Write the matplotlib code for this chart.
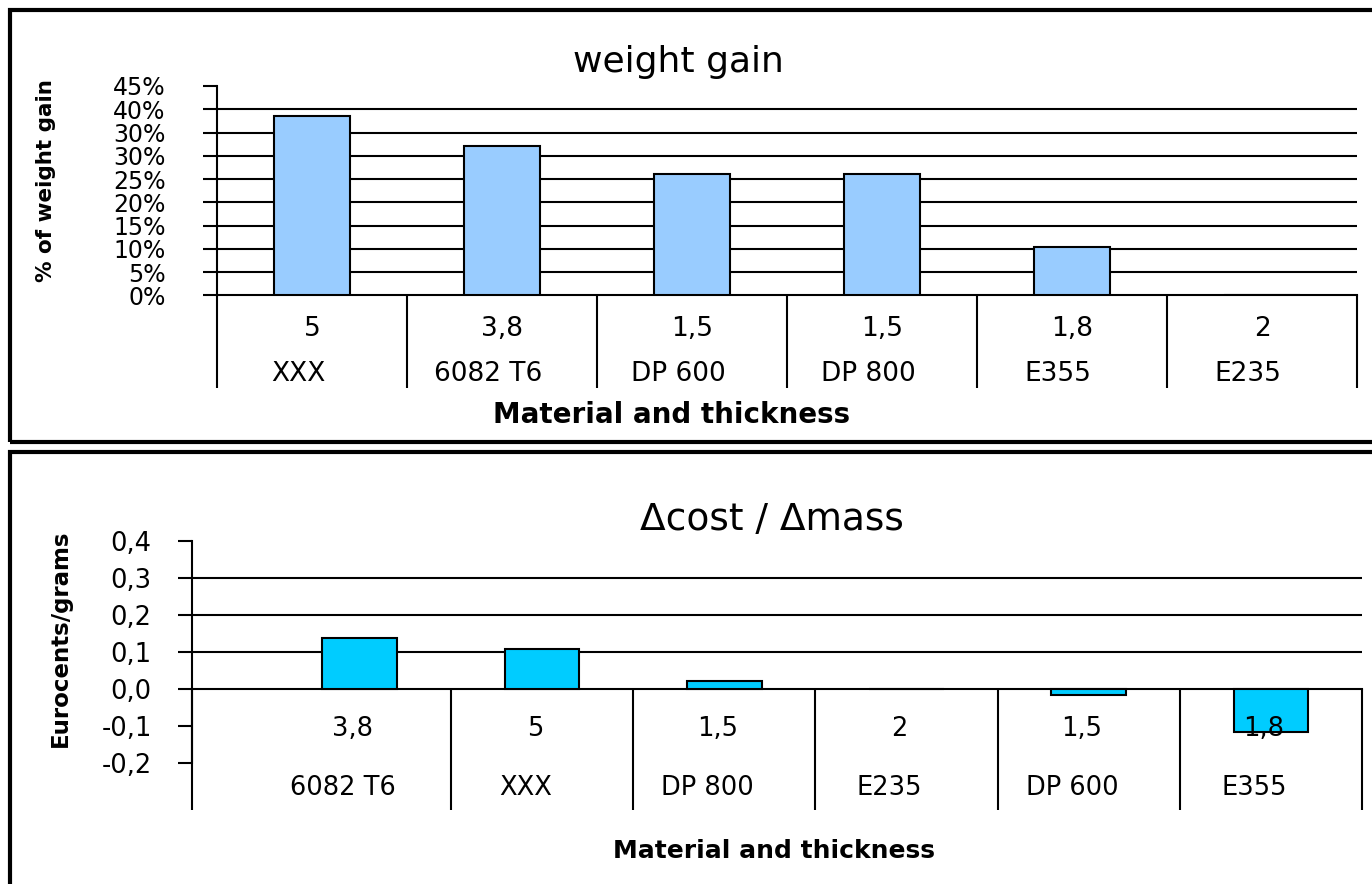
import matplotlib
matplotlib.use("Agg")
import matplotlib.pyplot as plt
from matplotlib.patches import Rectangle
from matplotlib.ticker import FixedLocator, FixedFormatter, NullFormatter

plt.rcParams['font.family'] = ['DejaVu Sans']

# ---------------- data ----------------
top_materials = ["XXX", "6082 T6", "DP 600", "DP 800", "E355", "E235"]
top_thickness = ["5", "3,8", "1,5", "1,5", "1,8", "2"]
top_gain = [38.6, 32.0, 26.0, 26.0, 10.3, 0.0]
top_yticks = [0, 5, 10, 15, 20, 25, 30, 35, 40, 45]
top_yticklabels = ["0%", "5%", "10%", "15%", "20%", "25%", "30%", "30%", "40%", "45%"]
top_grid = [5, 10, 15, 20, 25, 30, 35, 40]

bot_materials = ["6082 T6", "XXX", "DP 800", "E235", "DP 600", "E355"]
bot_thickness = ["3,8", "5", "1,5", "2", "1,5", "1,8"]
bot_ratio = [0.137, 0.107, 0.021, 0.0, -0.017, -0.115]
bot_yticks = [-0.2, -0.1, 0.0, 0.1, 0.2, 0.3, 0.4]
bot_yticklabels = ["-0,2", "-0,1", "0,0", "0,1", "0,2", "0,3", "0,4"]
bot_grid = [0.1, 0.2, 0.3]

W, H = 1372, 884
fig = plt.figure(figsize=(W / 100, H / 100), dpi=100)
fig.patch.set_facecolor('white')

# panel frames
fig.add_artist(Rectangle((10 / W, (H - 442) / H), 1.5, (442 - 10) / H,
                         transform=fig.transFigure, fill=False, lw=3, ec='black'))
fig.add_artist(Rectangle((10 / W, -0.2), 1.5, (H - 452) / H + 0.2,
                         transform=fig.transFigure, fill=False, lw=3, ec='black'))


def style_axes(ax):
    for s in ['top', 'right']:
        ax.spines[s].set_visible(False)
    for s in ['left', 'bottom']:
        ax.spines[s].set_linewidth(1.5)
        ax.spines[s].set_color('black')
    ax.set_facecolor('none')


# ---------------- top chart ----------------
ax1 = fig.add_axes([217 / W, (H - 295.3) / H, (1357 - 217) / W, (295.3 - 86) / H])
xs = list(range(len(top_materials)))
ax1.hlines(top_grid, -0.5, 5.5, colors='black', lw=1.5, zorder=1)
ax1.bar(xs, top_gain, width=0.405, color='#99CCFF', edgecolor='black', lw=1.5, zorder=3)
ax1.set_xlim(-0.5, 5.5)
ax1.set_ylim(0, 45)
style_axes(ax1)
ax1.yaxis.set_major_locator(FixedLocator(top_yticks))
ax1.yaxis.set_major_formatter(FixedFormatter(top_yticklabels))
ax1.tick_params(axis='y', direction='out', length=10, width=1.5, pad=27, labelsize=17)
ax1.set_xticks([i - 0.5 for i in range(len(top_materials) + 1)])
ax1.xaxis.set_major_formatter(NullFormatter())
ax1.tick_params(axis='x', direction='out', length=67, width=1.5)
for i, (t, m) in enumerate(zip(top_thickness, top_materials)):
    ax1.annotate(t, xy=(i, 0), xycoords=('data', 'axes fraction'), xytext=(0, -24),
                 textcoords='offset points', ha='center', va='center', fontsize=19)
    ax1.annotate(m, xy=(i, 0), xycoords=('data', 'axes fraction'), xytext=(-10, -57),
                 textcoords='offset points', ha='center', va='center', fontsize=19)

fig.text(678 / W, 1 - 72 / H, "weight gain", ha='center', va='baseline', fontsize=26)
fig.text(672 / W, 1 - 423 / H, "Material and thickness", ha='center', va='baseline',
         fontsize=20, fontweight='bold')
fig.text(46 / W, 1 - 181 / H, "% of weight gain", rotation=90, ha='center', va='center',
         fontsize=15.5, fontweight='bold')

# ---------------- bottom chart ----------------
ax2 = fig.add_axes([192 / W, (H - 763) / H, (1362 - 192) / W, (763 - 541) / H])
xs2 = list(range(len(bot_materials)))
ax2.hlines(bot_grid, -0.92, 5.5, colors='black', lw=1.5, zorder=1)
ax2.bar(xs2, bot_ratio, width=0.41, color='#00CCFF', edgecolor='black', lw=1.5, zorder=3)
ax2.set_xlim(-0.92, 5.5)
ax2.set_ylim(-0.2, 0.4)
style_axes(ax2)
ax2.spines['bottom'].set_position(('data', 0))
ax2.yaxis.set_major_locator(FixedLocator(bot_yticks))
ax2.yaxis.set_major_formatter(FixedFormatter(bot_yticklabels))
ax2.tick_params(axis='y', direction='out', length=10, width=1.5, pad=19, labelsize=18.5)
ax2.set_xticks([-0.92] + [i + 0.5 for i in range(len(bot_materials))])
ax2.xaxis.set_major_formatter(NullFormatter())
ax2.tick_params(axis='x', direction='out', length=87, width=1.5)
for i, (t, m) in enumerate(zip(bot_thickness, bot_materials)):
    ax2.annotate(t, xy=(i, 0), xycoords='data', xytext=(-5, -29),
                 textcoords='offset points', ha='center', va='center', fontsize=18.5, zorder=5)
    ax2.annotate(m, xy=(i, 0), xycoords='data', xytext=(-12, -71),
                 textcoords='offset points', ha='center', va='center', fontsize=18.5)

fig.text(772 / W, 1 - 530 / H, "\u0394cost / \u0394mass", ha='center', va='baseline', fontsize=27)
fig.text(774 / W, 1 - 858 / H, "Material and thickness", ha='center', va='baseline',
         fontsize=18, fontweight='bold')
fig.text(60 / W, 1 - 638 / H, "Eurocents/grams", rotation=90, ha='center', va='center',
         fontsize=16.5, fontweight='bold')

fig.savefig('out.png', dpi=100)
